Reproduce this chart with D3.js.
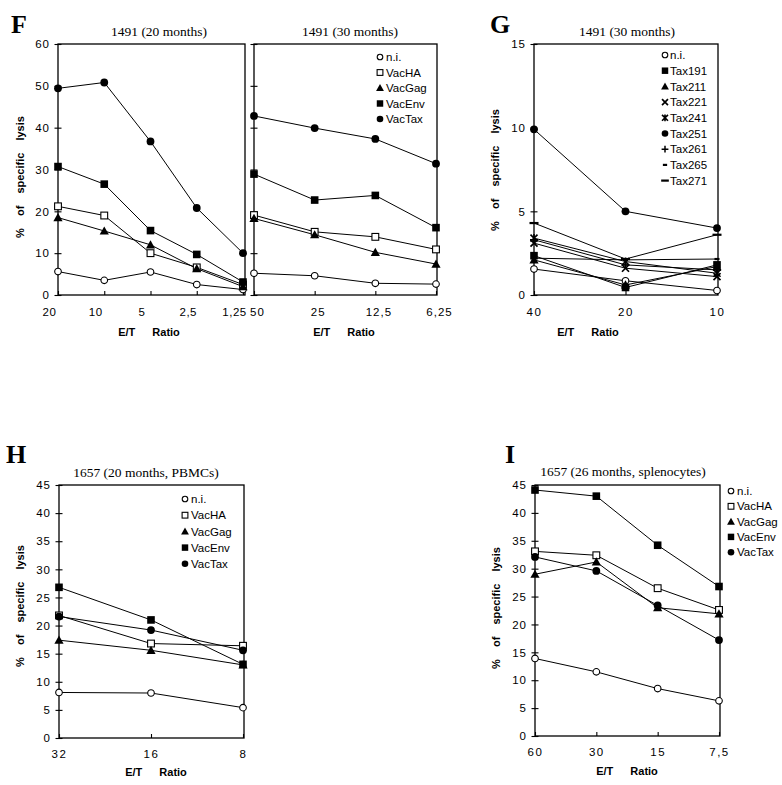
<!DOCTYPE html>
<html><head><meta charset="utf-8">
<script src="https://cdn.jsdelivr.net/npm/d3@7"></script>
<style>
body{margin:0;background:#fff;}
svg{display:block;}
</style></head><body>
<svg id="c" width="782" height="785"></svg>
<script>
// ---------- DATA ----------
const vacSeries = ["n.i.", "VacHA", "VacGag", "VacEnv", "VacTax"];
const vacMarkers = ["circleOpen", "squareOpen", "triangle", "square", "circle"];

// Panel F, 1491 (20 months)
const fRatiosA = ["20", "10", "5", "2,5", "1,25"];
const fNiA  = [5.6, 3.5, 5.5, 2.5, 1.3];
const fHaA  = [21.2, 19.0, 10.0, 6.6, 2.5];
const fGagA = [18.5, 15.3, 12.0, 6.3, 2.0];
const fEnvA = [30.7, 26.5, 15.4, 9.7, 3.1];
const fTaxA = [49.4, 50.8, 36.7, 20.8, 10.0];

// Panel F, 1491 (30 months)
const fRatiosB = ["50", "25", "12,5", "6,25"];
const fNiB  = [5.2, 4.6, 2.8, 2.6];
const fHaB  = [19.1, 15.1, 13.9, 10.9];
const fGagB = [18.3, 14.4, 10.2, 7.4];
const fEnvB = [28.9, 22.7, 23.8, 16.1];
const fTaxB = [42.8, 39.9, 37.3, 31.4];
const fYTicks = [0, 10, 20, 30, 40, 50, 60];

// Panel G, 1491 (30 months), Tax peptides
const gSeries = ["n.i.", "Tax191", "Tax211", "Tax221", "Tax241", "Tax251", "Tax261", "Tax265", "Tax271"];
const gMarkers = ["circleOpen", "square", "triangle", "x", "asterisk", "circle", "plus", "dashShort", "dashLong"];
const gRatios = ["40", "20", "10"];
const gNi  = [1.55, 0.85, 0.27];
const g191 = [2.35, 0.45, 1.8];
const g211 = [2.1, 0.6, 1.7];
const g221 = [3.1, 1.6, 1.1];
const g241 = [3.4, 2.0, 1.3];
const g251 = [9.9, 5.0, 4.0];
const g261 = [3.3, 1.8, 1.5];
const g265 = [2.2, 2.1, 2.15];
const g271 = [4.3, 2.15, 3.6];
const gYTicks = [0, 5, 10, 15];

// Panel H, 1657 (20 months, PBMCs)
const hRatios = ["32", "16", "8"];
const hNi  = [8.1, 8.0, 5.4];
const hHa  = [21.8, 16.8, 16.4];
const hGag = [17.4, 15.6, 13.0];
const hEnv = [26.8, 21.0, 13.1];
const hTax = [21.6, 19.2, 15.6];

// Panel I, 1657 (26 months, splenocytes)
const iRatios = ["60", "30", "15", "7,5"];
const iNi  = [13.9, 11.5, 8.5, 6.3];
const iHa  = [33.1, 32.4, 26.5, 22.6];
const iGag = [29.0, 31.2, 23.0, 21.9];
const iEnv = [44.1, 43.0, 34.2, 26.8];
const iTax = [32.1, 29.6, 23.4, 17.2];
const hiYTicks = [0, 5, 10, 15, 20, 25, 30, 35, 40, 45];

// ---------- DRAWING ----------
const svg = d3.select("#c");
const SANS = "'Liberation Sans', Arial, Helvetica, sans-serif";
const SERIF = "'Liberation Serif', 'Times New Roman', serif";

function marker(sel, type, x, y, s = 1) {
  const g = sel.append("g").attr("transform", `translate(${x},${y})`);
  switch (type) {
    case "circleOpen":
      g.append("circle").attr("r", 3.3 * s).attr("fill", "#fff").attr("stroke", "#000").attr("stroke-width", 1.1); break;
    case "circle":
      g.append("circle").attr("r", 3.9 * s).attr("fill", "#000"); break;
    case "squareOpen":
      g.append("rect").attr("x", -3.4 * s).attr("y", -3.4 * s).attr("width", 6.8 * s).attr("height", 6.8 * s)
        .attr("fill", "#fff").attr("stroke", "#000").attr("stroke-width", 1.1); break;
    case "square":
      g.append("rect").attr("x", -3.8 * s).attr("y", -3.8 * s).attr("width", 7.6 * s).attr("height", 7.6 * s).attr("fill", "#000"); break;
    case "triangle":
      g.append("path").attr("d", `M0,${-4.6 * s}L${4.6 * s},${3.6 * s}L${-4.6 * s},${3.6 * s}Z`).attr("fill", "#000"); break;
    case "x":
      g.append("path").attr("d", `M${-3.5 * s},${-3.5 * s}L${3.5 * s},${3.5 * s}M${3.5 * s},${-3.5 * s}L${-3.5 * s},${3.5 * s}`)
        .attr("stroke", "#000").attr("stroke-width", 1.7); break;
    case "asterisk":
      g.append("path").attr("d", `M${-3.5 * s},${-3.5 * s}L${3.5 * s},${3.5 * s}M${3.5 * s},${-3.5 * s}L${-3.5 * s},${3.5 * s}M0,${-4 * s}L0,${4 * s}`)
        .attr("stroke", "#000").attr("stroke-width", 1.6); break;
    case "plus":
      g.append("path").attr("d", `M${-4 * s},0L${4 * s},0M0,${-4 * s}L0,${4 * s}`)
        .attr("stroke", "#000").attr("stroke-width", 1.5); break;
    case "dashShort":
      g.append("rect").attr("x", -2.5 * s).attr("y", -1.1).attr("width", 5 * s).attr("height", 2.2).attr("fill", "#000"); break;
    case "dashLong":
      g.append("rect").attr("x", -4.5 * s).attr("y", -1.1).attr("width", 9 * s).attr("height", 2.2).attr("fill", "#000"); break;
  }
}

function panel(o) {
  const x = d3.scalePoint().domain(o.cats).range(o.xRange);
  const y = d3.scaleLinear().domain(o.yDomain).range(o.yRange);
  const g = svg.append("g");

  // frame
  g.append("rect")
    .attr("x", o.xRange[0]).attr("y", o.yRange[1])
    .attr("width", o.frameRight - o.xRange[0]).attr("height", o.yRange[0] - o.yRange[1])
    .attr("fill", "none").attr("stroke", "#000").attr("stroke-width", 1.3);

  // left axis
  const ya = g.append("g").attr("transform", `translate(${o.xRange[0]},0)`)
    .call(d3.axisLeft(y).tickValues(o.yTicks).tickSize(3).tickPadding(5)
      .tickFormat(o.showYLabels ? d3.format("d") : () => ""));
  ya.select(".domain").remove();
  ya.selectAll(".tick line").attr("x1", 3.5).attr("x2", -3.5).attr("stroke-width", 1.1);
  ya.selectAll("text").attr("font-family", SANS).attr("font-size", 11.5).attr("letter-spacing", "1px");

  // bottom axis
  const xa = g.append("g").attr("transform", `translate(0,${o.yRange[0]})`)
    .call(d3.axisBottom(x).tickSize(0));
  xa.select(".domain").remove();
  xa.selectAll(".tick line").attr("y1", 0).attr("y2", -4).attr("stroke", "#000").attr("stroke-width", 1.1);
  xa.selectAll("text").attr("y", o.xLabelOffset).attr("dy", "0.71em").attr("dx", o.xLabelShift || 0)
    .attr("font-family", SANS).attr("font-size", 11.5).attr("letter-spacing", o.xLetter || "1.5px");

  // lines
  const line = d3.line().x((d, i) => x(o.cats[i])).y(d => y(d));
  o.data.forEach(vals => {
    g.append("path").attr("d", line(vals)).attr("fill", "none").attr("stroke", "#000").attr("stroke-width", 1);
  });
  // markers
  o.data.forEach((vals, si) => {
    vals.forEach((v, i) => marker(g, o.markers[si], x(o.cats[i]), y(v)));
  });

  // legend
  if (o.legend) {
    o.series.forEach((s, i) => {
      const ly = o.legend.y + i * o.legend.dy;
      marker(g, o.markers[i], o.legend.x, ly, 0.85);
      g.append("text").attr("x", o.legend.x + o.legend.gap).attr("y", ly).attr("dy", "0.36em")
        .attr("font-family", SANS).attr("font-size", 11.5).text(s);
    });
  }

  // title
  if (o.title) {
    g.append("text").attr("x", o.title.x).attr("y", o.title.y).attr("text-anchor", "middle")
      .attr("font-family", SERIF).attr("font-size", 13.5).text(o.title.t);
  }
  // x-axis title
  if (o.xTitle) {
    g.append("text").attr("x", o.xTitle.x).attr("y", o.xTitle.y).attr("text-anchor", "middle")
      .attr("font-family", SANS).attr("font-size", 11).attr("font-weight", "bold")
      .attr("word-spacing", "14px").text("E/T Ratio");
  }
  // y-axis title
  if (o.yTitle) {
    g.append("text").attr("transform", `translate(${o.yTitle.x},${o.yTitle.y}) rotate(-90)`)
      .attr("text-anchor", "middle").attr("font-family", SANS).attr("font-size", 11).attr("font-weight", "bold")
      .attr("word-spacing", "9px").text("% of specific lysis");
  }
}

function letter(t, x, yy) {
  svg.append("text").attr("x", x).attr("y", yy).attr("font-family", SERIF)
    .attr("font-weight", "bold").attr("font-size", 26).text(t);
}

// Panel F left
panel({
  cats: fRatiosA, xRange: [58, 243], frameRight: 245, yDomain: [0, 60], yRange: [295, 44],
  yTicks: fYTicks, showYLabels: true, xLabelOffset: 13, xLabelShift: -9, xLetter: "0.5px",
  data: [fNiA, fHaA, fGagA, fEnvA, fTaxA], markers: vacMarkers, series: vacSeries,
  title: { x: 159, y: 36, t: "1491 (20 months)" },
  xTitle: { x: 149, y: 336 }, yTitle: { x: 24, y: 177 }
});
// Panel F right
panel({
  cats: fRatiosB, xRange: [254, 436], frameRight: 437, yDomain: [0, 60], yRange: [295, 44],
  yTicks: fYTicks, showYLabels: false, xLabelOffset: 13, xLabelShift: 3, xLetter: "1px",
  data: [fNiB, fHaB, fGagB, fEnvB, fTaxB], markers: vacMarkers, series: vacSeries,
  legend: { x: 380, y: 57, dy: 15.5, gap: 6 },
  title: { x: 350, y: 36, t: "1491 (30 months)" },
  xTitle: { x: 344, y: 336 }
});
// Panel G
panel({
  cats: gRatios, xRange: [534, 717], frameRight: 718, yDomain: [0, 15], yRange: [295, 44],
  yTicks: gYTicks, showYLabels: true, xLabelOffset: 13,
  data: [gNi, g191, g211, g221, g241, g251, g261, g265, g271], markers: gMarkers, series: gSeries,
  legend: { x: 665, y: 55, dy: 15.7, gap: 5 },
  title: { x: 627, y: 36, t: "1491 (30 months)" },
  xTitle: { x: 588, y: 336 }, yTitle: { x: 499, y: 170 }
});
// Panel H
panel({
  cats: hRatios, xRange: [59, 243], frameRight: 244, yDomain: [0, 45], yRange: [738, 485],
  yTicks: hiYTicks, showYLabels: true, xLabelOffset: 12,
  data: [hNi, hHa, hGag, hEnv, hTax], markers: vacMarkers, series: vacSeries,
  legend: { x: 185, y: 499, dy: 16.2, gap: 6 },
  title: { x: 146, y: 477, t: "1657 (20 months, PBMCs)" },
  xTitle: { x: 156, y: 776 }, yTitle: { x: 24, y: 606 }
});
// Panel I
panel({
  cats: iRatios, xRange: [535, 719], frameRight: 720, yDomain: [0, 45], yRange: [736, 485],
  yTicks: hiYTicks, showYLabels: true, xLabelOffset: 12,
  data: [iNi, iHa, iGag, iEnv, iTax], markers: vacMarkers, series: vacSeries,
  legend: { x: 731, y: 491, dy: 15.3, gap: 6 },
  title: { x: 623, y: 476, t: "1657 (26 months, splenocytes)" },
  xTitle: { x: 627, y: 775 }, yTitle: { x: 500, y: 608 }
});

letter("F", 11, 33);
letter("G", 490, 33);
letter("H", 6, 463);
letter("I", 505, 463);
</script>
</body></html>
